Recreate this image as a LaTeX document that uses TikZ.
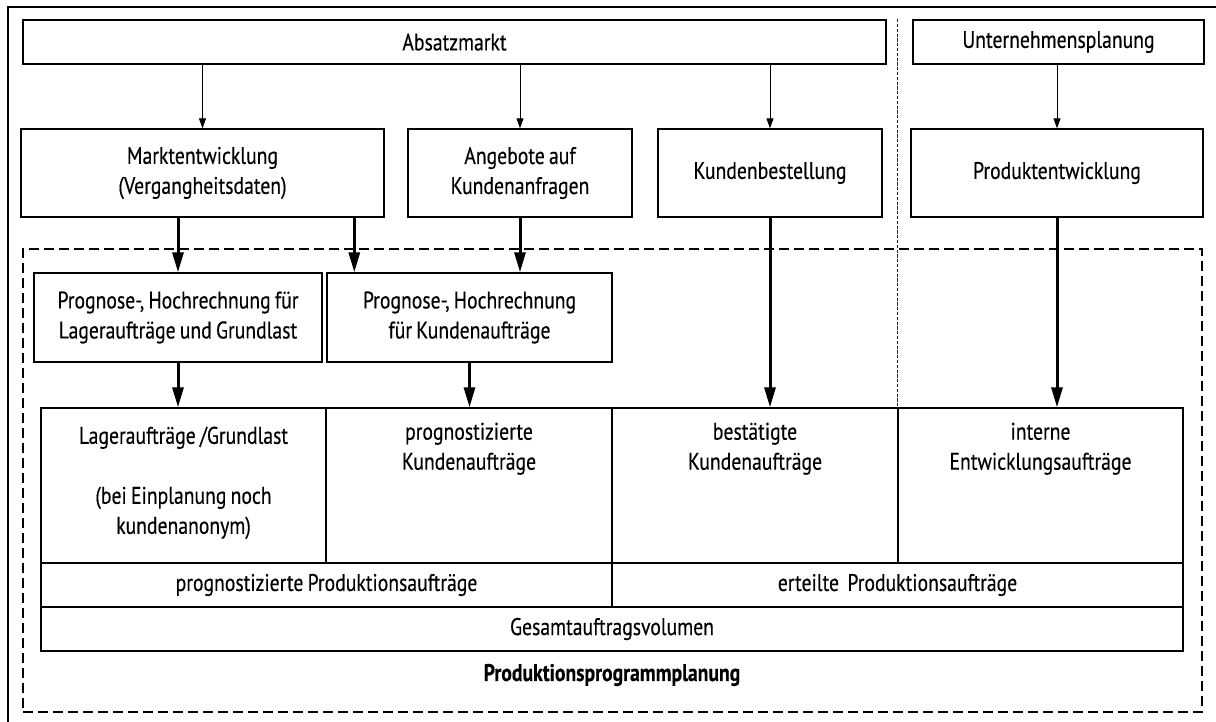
\documentclass[tikz,border=0pt]{standalone}
\usepackage{fontspec}
\setmainfont{PT Sans}[FakeStretch=0.82, FakeBold=0.35, WordSpace=0.8]
\usetikzlibrary{arrows.meta,calc}

\begin{document}
\begin{tikzpicture}[x=0.5pt,y=-0.5pt,
  corners/.style n args={4}{at={({(#1+#3)/2},{(#2+#4)/2})},
    minimum width={(#3-#1)*0.5pt}, minimum height={(#4-#2)*0.5pt}},
  txt/.style={font=\fontsize{12}{15}\selectfont, align=center},
  box/.style={txt, draw, line width=0.7pt, inner sep=0pt},
  cell/.style={draw, line width=0.7pt, inner sep=0pt},
  celltext/.style={txt, inner sep=0pt, anchor=north, execute at begin node=\strut},
  thinarrow/.style={line width=0.5pt, -{Triangle[width=3.5pt,length=5pt]}},
  thickarrow/.style={line width=1.5pt, -{Triangle[width=5.5pt,length=10pt]}},
  frameline/.style={line width=1.3pt},
  region/.style={draw, line width=0.6pt, dash pattern=on 5pt off 2.5pt, inner sep=0pt},
  divider/.style={line width=0.8pt, black!85, dash pattern=on 1.6pt off 0.8pt}]

\useasboundingbox (0,0) rectangle (1216,722);

% outer frame
\draw[frameline] (8,722) -- (8,7) -- (1216,7);

% dashed region of the production programme planning
\node[region, corners={23}{249}{1202}{712}] (ppp) {};
\node[txt, font=\fontsize{12}{15}\selectfont\bfseries] (pplabel) at (612,675) {Produktionsprogrammplanung};

% top row
\node[box, corners={23}{20}{886}{64}] (absatz) {Absatzmarkt};
\node[box, corners={913}{20}{1204}{64}] (untern) {Unternehmensplanung};

% second row
\node[box, corners={21}{129}{384}{217}] (markt) {Marktentwicklung\\(Vergangheitsdaten)};
\node[box, corners={408}{129}{632}{217}] (angebote) {Angebote auf\\Kundenanfragen};
\node[box, corners={658}{129}{882}{217}] (kunden) {Kundenbestellung};
\node[box, corners={911}{129}{1203}{217}] (produkt) {Produktentwicklung};

% forecast boxes
\node[box, corners={34}{273}{322}{362}] (progL) {Prognose-, Hochrechnung für\\Lageraufträge und Grundlast};
\node[box, corners={327}{273}{612}{362}] (progR) {Prognose-, Hochrechnung\\für Kundenaufträge};

% order volume table
\node[cell, corners={41}{408}{326}{563}] (c1) {};
\node[cell, corners={326}{408}{612}{563}] (c2) {};
\node[cell, corners={612}{408}{898}{563}] (c3) {};
\node[cell, corners={898}{408}{1183}{563}] (c4) {};
\node[box, corners={41}{563}{612}{607}] (prodL) {prognostizierte Produktionsaufträge};
\node[box, corners={612}{563}{1183}{607}] (prodR) {erteilte~~Produktionsaufträge};
\node[box, corners={41}{607}{1183}{651}] (gesamt) {Gesamtauftragsvolumen};

\node[celltext] (t1) at ($(c1.north)+(0,19)$) {Lageraufträge /Grundlast\\[15pt](bei Einplanung noch\\kundenanonym)};
\node[celltext] (t2) at ($(c2.north)+(0,15)$) {prognostizierte\\Kundenaufträge};
\node[celltext] (t3) at ($(c3.north)+(0,15)$) {bestätigte\\Kundenaufträge};
\node[celltext] (t4) at ($(c4.north)+(0,15)$) {interne\\Entwicklungsaufträge};

% separator between market side and company side
\coordinate (sepTop) at (absatz.north -| c4.north west);
\draw[divider] (sepTop) -- (c4.north west);

% thin arrows from the sources
\draw[thinarrow] (absatz.south -| markt.north) -- (markt.north);
\draw[thinarrow] (absatz.south -| angebote.north) -- (angebote.north);
\draw[thinarrow] (absatz.south -| kunden.north) -- (kunden.north);
\draw[thinarrow] (untern.south -| produkt.north) -- (produkt.north);

% thick arrows into the planning
\coordinate (mR) at ($(progR.north west)+(28,0)$);
\draw[thickarrow] (markt.south -| progL.north) -- (progL.north);
\draw[thickarrow] (markt.south -| mR) -- (mR);
\draw[thickarrow] (angebote.south) -- (angebote.south |- progR.north);
\draw[thickarrow] (progL.south) -- (progL.south |- c1.north);
\draw[thickarrow] (progR.south) -- (progR.south |- c2.north);
\draw[thickarrow] (kunden.south) -- (kunden.south |- c3.north);
\draw[thickarrow] (produkt.south) -- (produkt.south |- c4.north);
\end{tikzpicture}
\end{document}
